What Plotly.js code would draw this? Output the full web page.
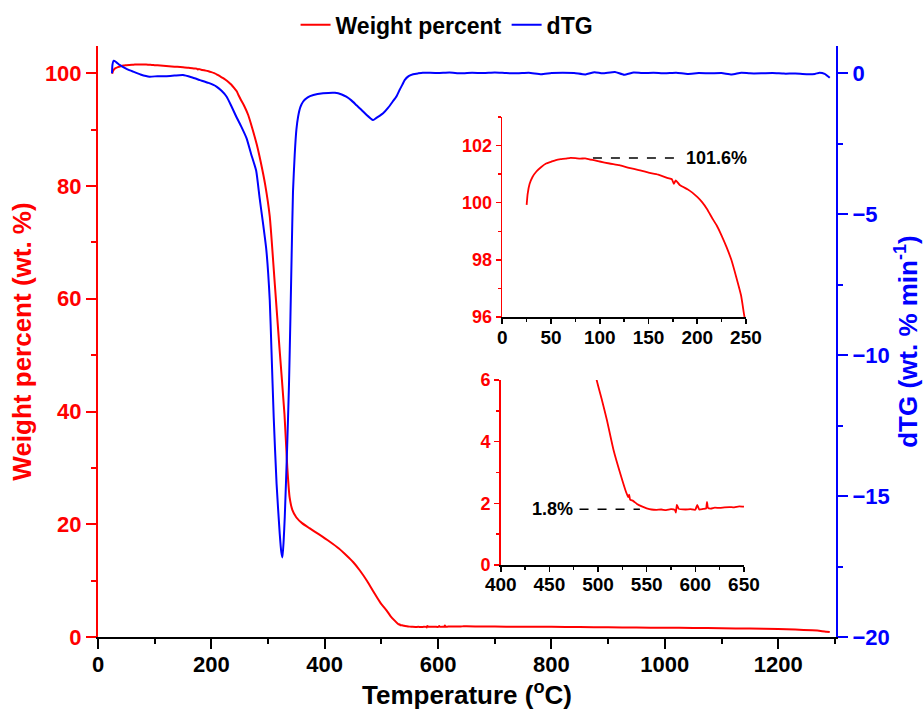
<!DOCTYPE html>
<html>
<head>
<meta charset="utf-8">
<script src="https://cdn.plot.ly/plotly-3.0.1.min.js"></script>
<style>html,body{margin:0;padding:0;background:#fff;}#chart{width:924px;height:711px;}</style>
</head>
<body>
<div id="chart"></div>
<script>
// ---- Weight percent (wt. %) vs temperature (°C) ----
const tempW = [25, 26, 28, 31, 35, 40, 45, 50, 55, 60, 65, 70, 75, 80, 85, 90, 95, 100, 110, 120, 130, 140, 150, 160, 170, 174, 176, 178, 182, 190, 195, 200, 205, 210, 215, 220, 225, 230, 235, 240, 245, 248, 252, 258, 265, 272, 280, 287, 295, 303, 312, 320, 329, 334, 338, 343, 350, 360, 373, 390, 409, 425, 438, 450, 462, 475, 488, 498.6, 504, 509, 516, 523, 529, 531, 532, 533, 536, 540, 545, 550, 555, 560, 565, 570, 575, 579, 580, 581, 583, 590, 595, 600, 602, 604, 608, 611, 612, 613, 616, 620, 625, 630, 635, 640, 645, 650, 680, 720, 760, 800, 850, 900, 950, 1000, 1050, 1100, 1150, 1200, 1230, 1260, 1275, 1285, 1291];
const weight = [99.92, 100.3, 100.65, 100.9, 101.09, 101.25, 101.37, 101.43, 101.49, 101.52, 101.54, 101.57, 101.56, 101.54, 101.55, 101.51, 101.48, 101.44, 101.37, 101.31, 101.22, 101.14, 101.05, 100.98, 100.86, 100.82, 100.66, 100.78, 100.62, 100.47, 100.35, 100.2, 100.02, 99.78, 99.48, 99.2, 98.85, 98.45, 98.0, 97.4, 96.75, 96.1, 95.3, 94.2, 92.6, 90.3, 87.4, 84.3, 80.2, 74.6, 62.5, 51.5, 39.5, 30.0, 24.8, 22.5, 21.2, 20.2, 19.3, 18.2, 16.9, 15.7, 14.5, 13.3, 11.8, 9.9, 7.7, 6.0, 5.35, 4.72, 3.72, 2.95, 2.35, 2.2, 2.28, 2.12, 2.08, 1.98, 1.9, 1.84, 1.8, 1.79, 1.8, 1.78, 1.81, 1.79, 1.7, 1.95, 1.82, 1.8, 1.81, 1.79, 1.95, 1.8, 1.82, 1.83, 2.05, 1.85, 1.83, 1.86, 1.85, 1.87, 1.88, 1.87, 1.9, 1.89, 1.86, 1.84, 1.82, 1.8, 1.76, 1.72, 1.68, 1.64, 1.6, 1.55, 1.5, 1.42, 1.32, 1.18, 1.08, 0.95, 0.88];

// ---- dTG (wt. % min^-1) vs temperature (°C) ----
const tempD = [24.7, 25.5, 27.7, 32, 38, 44, 52, 62, 75, 91, 105, 121, 135, 150, 165, 180, 195, 209, 218, 227, 235, 244, 253, 262, 270, 279, 285, 291, 297, 303, 306, 310, 315, 320.6, 323.5, 325.4, 327.5, 329.5, 333.5, 337, 339.5, 341.8, 344, 347, 350, 353, 357, 362, 370, 380, 397, 418, 430, 438, 447, 456, 465, 474, 481, 485, 490, 496, 503, 512, 520, 527, 532, 537, 541, 548, 556, 565, 573, 580, 600, 620, 640, 660, 680, 700, 720, 740, 760, 782, 800, 820, 840, 860, 876, 890, 912, 928, 945, 960, 980, 1000, 1020, 1040, 1060, 1080, 1100, 1118, 1135, 1150, 1170, 1190, 1210, 1230, 1250, 1265, 1273, 1282, 1291];
const dtg = [0, 0.3, 0.45, 0.4, 0.3, 0.23, 0.14, 0.06, -0.04, -0.12, -0.1, -0.1, -0.08, -0.06, -0.14, -0.24, -0.34, -0.47, -0.62, -0.83, -1.15, -1.54, -1.9, -2.3, -2.85, -3.45, -4.4, -5.3, -6.27, -8.05, -9.8, -12.2, -14.55, -16.33, -17.0, -17.18, -16.6, -15.74, -13.4, -11.0, -8.64, -6.27, -4.2, -2.9, -2.0, -1.54, -1.2, -1.0, -0.85, -0.77, -0.71, -0.69, -0.75, -0.83, -0.96, -1.13, -1.3, -1.48, -1.6, -1.66, -1.6, -1.52, -1.42, -1.22, -1.0, -0.8, -0.59, -0.4, -0.24, -0.1, -0.03, 0.0, 0.02, 0.02, 0.01, 0.03, 0.0, 0.02, 0.01, 0.03, 0.01, 0.0, 0.02, -0.03, 0.01, 0.02, 0.01, -0.04, 0.04, 0.0, 0.05, -0.05, 0.03, 0.01, 0.02, 0.0, 0.02, -0.02, 0.01, 0.0, 0.01, -0.04, 0.02, 0.0, 0.0, 0.01, -0.01, -0.01, -0.03, -0.02, 0.02, -0.02, -0.16];

// ---- marked values in the insets ----
const peakLabel = ["101.6%"];
const peakValue = [101.56];
const peakSpan = [93, 180];
const residueLabel = ["1.8%"];
const residueValue = [1.81];
const residueSpan = [481, 543];

// ---- texts ----
const seriesNames = ["Weight percent", "dTG"];
const xTitle = "Temperature (<sup>o</sup>C)";
const yTitle = "Weight percent (wt. %)";
const y2Title = "dTG (wt. % min<sup>-1</sup>)";

const RED = "#ff0000", BLUE = "#0000ff", BLACK = "#000000";
const FAM = "Liberation Sans, Arial, sans-serif";
const bold = (size, color) => ({family: FAM, size: size, color: color, weight: "bold"});

const traces = [
  {x: tempW, y: weight, name: seriesNames[0], type: "scatter", mode: "lines",
   line: {color: RED, width: 2, shape: "spline", smoothing: 0.5}, xaxis: "x", yaxis: "y"},
  {x: tempD, y: dtg, name: seriesNames[1], type: "scatter", mode: "lines",
   line: {color: BLUE, width: 2, shape: "spline", smoothing: 0.5}, xaxis: "x", yaxis: "y4"},
  {x: tempW, y: weight, type: "scatter", mode: "lines", showlegend: false, hoverinfo: "skip",
   line: {color: RED, width: 1.8, shape: "spline", smoothing: 0.4}, xaxis: "x2", yaxis: "y2"},
  {x: tempW, y: weight, type: "scatter", mode: "lines", showlegend: false, hoverinfo: "skip",
   line: {color: RED, width: 1.8, shape: "spline", smoothing: 0.4}, xaxis: "x3", yaxis: "y3"}
];

const insetX = (domain, anchor, range, standoff) => ({
  domain: domain, anchor: anchor, range: range, dtick: 50, tick0: 0,
  showline: true, linecolor: BLACK, linewidth: 1.6, ticks: "outside", ticklen: 5, tickwidth: 1.6,
  tickcolor: BLACK, tickfont: bold(19, BLACK), showgrid: false, zeroline: false, ticklabelstandoff: standoff,
  minor: {dtick: 25, ticks: "outside", ticklen: 3, tickwidth: 1.4, tickcolor: BLACK, showgrid: false}
});
const insetY = (domain, anchor, range) => ({
  domain: domain, anchor: anchor, range: range, dtick: 2,
  showline: true, linecolor: RED, linewidth: 1.6, ticks: "outside", ticklen: 5, tickwidth: 1.6,
  tickcolor: RED, tickfont: bold(18, RED), showgrid: false, zeroline: false,
  minor: {dtick: 1, ticks: "outside", ticklen: 3, tickwidth: 1.4, tickcolor: RED, showgrid: false}
});

const layout = {
  width: 924, height: 711,
  margin: {l: 98, r: 88, t: 46, b: 74, autoexpand: false},
  paper_bgcolor: "#ffffff", plot_bgcolor: "rgba(0,0,0,0)",
  showlegend: true,
  legend: {orientation: "h", x: 0.473, xanchor: "center", y: 1.036, yanchor: "middle",
           font: bold(23, BLACK), bgcolor: "rgba(0,0,0,0)", traceorder: "normal", itemwidth: 30},
  xaxis: {domain: [0, 1], range: [0, 1302], dtick: 200, tick0: 0, anchor: "y",
          showline: true, linecolor: BLACK, linewidth: 2, ticks: "outside", ticklen: 10, tickwidth: 2,
          tickcolor: BLACK, tickfont: bold(22, BLACK), showgrid: false, zeroline: false, ticklabelstandoff: -3,
          minor: {dtick: 100, ticks: "outside", ticklen: 5, tickwidth: 2, tickcolor: BLACK, showgrid: false},
          title: {text: xTitle, font: bold(26, BLACK), standoff: 8}},
  yaxis: {domain: [0, 1], range: [0, 104.84], dtick: 20, anchor: "x",
          showline: true, linecolor: RED, linewidth: 2, ticks: "outside", ticklen: 10, tickwidth: 2,
          tickcolor: RED, tickfont: bold(22, RED), showgrid: false, zeroline: false,
          minor: {dtick: 10, ticks: "outside", ticklen: 5, tickwidth: 2, tickcolor: RED, showgrid: false},
          title: {text: yTitle, font: bold(26, RED), standoff: 6}},
  yaxis4: {overlaying: "y", side: "right", anchor: "x", range: [-20, 0.97], dtick: 5,
          showline: true, linecolor: BLUE, linewidth: 2, ticks: "outside", ticklen: 10, tickwidth: 2,
          tickcolor: BLUE, tickfont: bold(22, BLUE), showgrid: false, zeroline: false,
          minor: {dtick: 2.5, ticks: "outside", ticklen: 5, tickwidth: 2, tickcolor: BLUE, showgrid: false},
          title: {text: y2Title, font: bold(26, BLUE), standoff: 6}},
  xaxis2: insetX([0.5478, 0.878], "y2", [0, 250], -2),
  yaxis2: insetY([0.5415, 0.880], "x2", [96, 103]),
  xaxis3: insetX([0.5457, 0.8753], "y3", [400, 650], -3),
  yaxis3: insetY([0.1218, 0.4349], "x3", [0, 6]),
  shapes: [
    {type: "line", xref: "x2", yref: "y2", x0: peakSpan[0], x1: peakSpan[1], y0: peakValue[0], y1: peakValue[0],
     line: {color: BLACK, width: 1.5, dash: "dash"}},
    {type: "line", xref: "x3", yref: "y3", x0: residueSpan[0], x1: residueSpan[1], y0: residueValue[0], y1: residueValue[0],
     line: {color: BLACK, width: 1.5, dash: "dash"}}
  ],
  annotations: [
    {xref: "x2", yref: "y2", x: peakSpan[1] + 6, y: peakValue[0], text: peakLabel[0], showarrow: false,
     xanchor: "left", yanchor: "middle", font: bold(18, BLACK)},
    {xref: "x3", yref: "y3", x: residueSpan[0] - 5, y: residueValue[0], text: residueLabel[0], showarrow: false,
     xanchor: "right", yanchor: "middle", font: bold(18, BLACK)}
  ]
};

Plotly.newPlot("chart", traces, layout, {staticPlot: true, displayModeBar: false});
</script>
</body>
</html>
